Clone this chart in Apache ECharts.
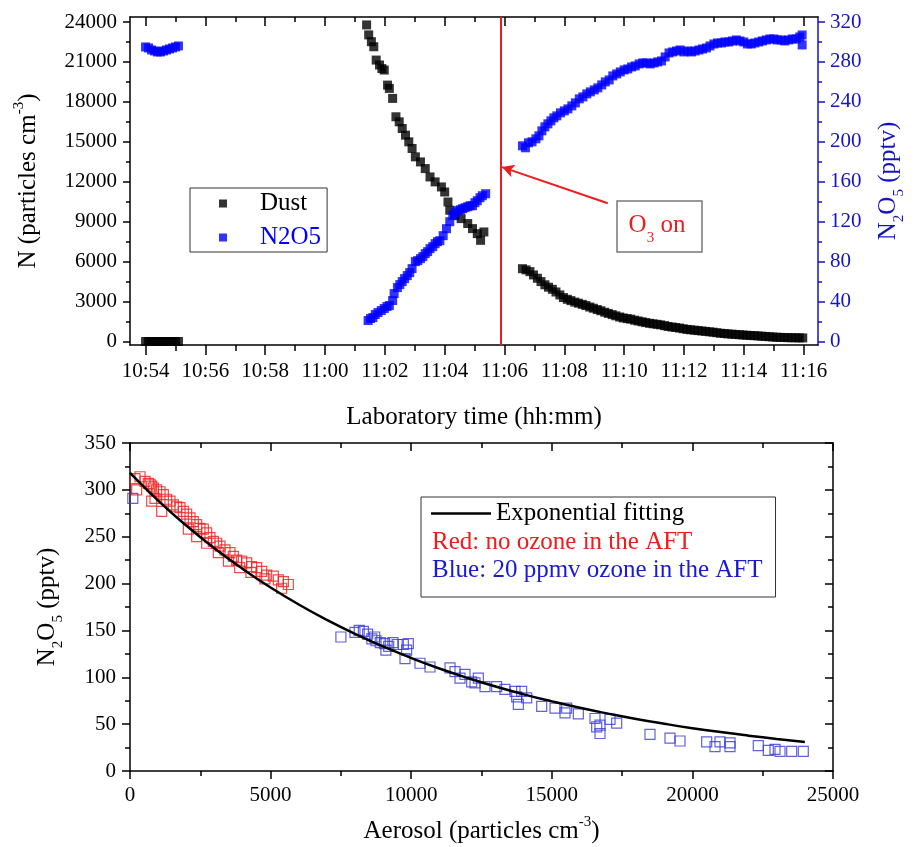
<!DOCTYPE html>
<html><head><meta charset="utf-8">
<script src="https://cdn.jsdelivr.net/npm/echarts@6/dist/echarts.min.js"></script>
<style>html,body{margin:0;padding:0;background:#fff}#c{width:915px;height:847px}</style>
</head><body><div id="c"></div>
<script>
// ---------- DATA (time in minutes after 10:00) ----------
const timeMajorTicks = [54,56,58,60,62,64,66,68,70,72,74,76];
const timeMinorTicks = [55,57,59,61,63,65,67,69,71,73,75];
const dustMajorTicks = [0,3000,6000,9000,12000,15000,18000,21000,24000];
const dustMinorTicks = [1500,4500,7500,10500,13500,16500,19500,22500];
const pptvMajorTicks = [0,40,80,120,160,200,240,280,320];
const pptvMinorTicks = [20,60,100,140,180,220,260,300];

const dustTime = [54.00,54.10,54.20,54.30,54.40,54.50,54.60,54.70,54.80,54.90,55.00,55.10,
  61.39,61.46,61.55,61.63,61.71,61.82,61.90,61.98,62.09,62.15,62.26,62.37,62.48,62.58,62.69,62.80,62.91,63.02,63.19,63.35,63.51,63.68,63.89,64.00,64.11,64.17,64.33,64.55,64.77,64.93,65.09,65.20,65.31,
  66.60,66.72,66.85,66.97,67.10,67.22,67.35,67.47,67.60,67.72,67.85,67.97,68.10,68.22,68.35,68.47,68.60,68.72,68.85,68.97,69.10,69.22,69.35,69.47,69.60,69.72,69.85,69.97,70.10,70.22,70.35,70.47,70.60,70.72,70.85,70.97,71.10,71.22,71.35,71.47,71.60,71.72,71.85,71.97,72.10,72.22,72.35,72.47,72.60,72.72,72.85,72.97,73.10,73.22,73.35,73.47,73.60,73.72,73.85,73.97,74.10,74.22,74.35,74.47,74.60,74.72,74.85,74.97,75.10,75.22,75.35,75.47,75.60,75.72,75.85,75.97];
const dustValue = [0,0,0,0,0,0,0,0,0,0,0,0,
  23780,23030,22520,22140,21140,20770,20500,20390,19260,19010,18260,16880,16500,16000,15500,15000,14500,13870,13490,12990,12360,11990,11610,11230,10480,9860,9480,9230,8860,8480,8100,7600,8230,
  5470,5380,5250,5000,4750,4500,4260,4080,3920,3720,3500,3300,3170,3070,2960,2880,2790,2700,2590,2500,2400,2310,2200,2110,2020,1930,1840,1770,1720,1680,1600,1540,1480,1420,1370,1330,1290,1250,1190,1130,1090,1050,1010,960,910,880,850,820,790,760,730,700,660,620,600,570,550,530,510,490,470,450,440,420,400,380,360,340,320,310,300,290,285,280,275,270];

const n2o5Time = [54.00,54.10,54.20,54.30,54.40,54.50,54.60,54.70,54.80,54.90,55.00,55.10,
  61.44,61.52,61.60,61.68,61.77,61.88,61.98,62.07,62.15,62.26,62.31,62.42,62.50,62.58,62.66,62.75,62.83,62.91,63.02,63.10,63.19,63.27,63.35,63.43,63.51,63.60,63.68,63.76,63.84,63.95,64.06,64.17,64.27,64.35,64.44,64.52,64.60,64.68,64.77,64.85,64.93,65.01,65.09,65.18,65.26,65.37,
  66.60,66.70,66.80,66.92,67.05,67.15,67.25,67.35,67.45,67.55,67.65,67.75,67.87,68.00,68.12,68.25,68.37,68.50,68.62,68.75,68.87,69.00,69.12,69.25,69.37,69.50,69.62,69.75,69.87,70.00,70.12,70.25,70.37,70.50,70.62,70.75,70.87,71.00,71.12,71.25,71.37,71.50,71.62,71.75,71.87,72.00,72.12,72.25,72.37,72.50,72.62,72.75,72.87,73.00,73.12,73.25,73.37,73.50,73.62,73.75,73.87,74.00,74.12,74.25,74.37,74.50,74.62,74.75,74.87,75.00,75.12,75.25,75.37,75.50,75.62,75.75,75.87,75.95,75.95];
const n2o5Value = [295,294,292,291,290,290,291,292,293,294,295,296,
  21,23,24,27,29,31,33,35,36,41,48,54,57,60,63,66,69,73,80,81,83,85,88,90,93,95,98,100,101,106,113,120,126,129,131,132,133,134,135,136,136,139,141,144,146,148,
  196,194,199,200,203,206,211,215,218,221,224,226,229,231,233,236,239,243,245,248,250,252,254,257,260,262,266,268,270,272,273,275,276,278,279,279,278,279,280,281,285,289,290,291,292,290,291,290,291,292,293,294,296,298,299,299,300,300,301,302,301,300,298,298,299,300,301,302,303,303,302,302,301,302,303,303,305,307,297];

const O3_ON_TIME = 65.88;
const arrowFrom = [69.45, 10380];
const arrowTo = [65.92, 13100];

const aerosolTicks = [0,5000,10000,15000,20000,25000];
const redAerosol = [178,356,533,652,711,770,830,948,1067,1186,1304,1422,1541,1660,1778,1897,2015,2134,2252,2371,2489,2608,2726,2845,2964,3082,3200,3378,3556,3675,3793,3971,4149,4327,4505,4683,4860,5097,5275,5453,5630,
  237,889,5393,771,1127,2075,2371,2726,3141,3500,3900,4300,4800];
const redN2O5 = [312,314,309,307,306,304,302,300,298,295,290,288,284,282,281,277,274,270,266,263,259,258,254,249,245,243,240,236,233,229,225,224,222,218,217,213,209,208,204,202,199,
  300,291,195,288,277,258,250,243,233,224,217,212,205];
const blueAerosol = [100,7500,8000,8150,8300,8450,8600,8700,8750,8900,9050,9100,9200,9350,9500,
  9720,9838,9898,9780,10313,10669,11380,11558,11736,11913,12150,12387,12269,12624,13039,13335,13691,13928,13751,13810,14107,14641,15114,15529,15470,15944,16536,16714,16714,16596,17070,17307,18492,19203,19559,20508,20804,20982,21337,21337,22343,22699,22937,23115,23531,23944];
const blueN2O5 = [291,143,148,150,149,146,141,143,139,137,136,129,133,137,135,
  135,129,136,120,115,111,110,106,99,103,95,99,94,90,90,87,85,85,79,71,78,69,67,67,62,61,56,49,40,47,55,51,39,35,32,31,26,31,30,26,27,22,23,21,21,21];
const fitAerosol = [0,1000,2000,3000,4000,5000,6000,7000,8000,9000,10000,11000,12000,13000,14000,15000,16000,17000,18000,19000,20000,21000,22000,23000,24000];
const fitN2O5 = [318,288.6,261.9,237.7,215.8,195.8,177.7,161.3,146.4,132.9,120.6,109.4,99.3,90.1,81.8,74.3,67.4,61.2,55.5,50.4,45.7,41.5,37.7,34.2,31.0];

// ---------- helpers ----------
const zip = (a, b) => a.map((v, i) => [v, b[i]]);
const FONT = 'Liberation Serif';
const BLUE = '#0000ff';
const BLUE_AX = '#1414c0';
const RED = '#ee1c1c';
const fmtTime = v => { const h = 10 + Math.floor(v / 60); const m = Math.round(v % 60); return h + ':' + String(m).padStart(2, '0'); };
const lbl = (c) => ({ fontFamily: FONT, fontSize: 21, color: c || '#000' });
const subRich = (c) => ({
  sub: { fontFamily: FONT, fontSize: 15, color: c, verticalAlign: 'bottom', padding: [0, 0, -6, 0] },
  sup: { fontFamily: FONT, fontSize: 15, color: c, verticalAlign: 'top', padding: [-4, 0, 0, 0] }
});
const nameStyle = (c) => ({ fontFamily: FONT, fontSize: 25, color: c, rich: subRich(c) });
const T_MIN = 53.48, T_MAX = 76.48;
const blk = { color: '#000', width: 1.5 };

const chart = echarts.init(document.getElementById('c'), null, { renderer: 'canvas' });
chart.setOption({
  backgroundColor: '#fff',
  animation: false,
  grid: [
    { left: 130, top: 17, width: 703, height: 328 },
    { left: 130, top: 443, width: 703, height: 328 }
  ],
  xAxis: [
    { gridIndex: 0, type: 'value', position: 'bottom', min: T_MIN, max: T_MAX,
      axisLine: { onZero: false, lineStyle: blk },
      axisTick: { customValues: timeMajorTicks, length: 10, lineStyle: blk },
      axisLabel: { customValues: timeMajorTicks, formatter: fmtTime, margin: 16, ...lbl() },
      splitLine: { show: false },
      name: 'Laboratory time (hh:mm)', nameLocation: 'middle', nameGap: 60, nameTextStyle: nameStyle('#000') },
    { gridIndex: 0, type: 'value', position: 'bottom', min: T_MIN, max: T_MAX,
      axisLine: { show: false, onZero: false },
      axisTick: { customValues: timeMinorTicks, length: 6, lineStyle: blk },
      axisLabel: { show: false }, splitLine: { show: false } },
    { gridIndex: 0, type: 'value', position: 'top', min: T_MIN, max: T_MAX,
      axisLine: { onZero: false, lineStyle: blk },
      axisTick: { inside: true, customValues: timeMajorTicks, length: 9, lineStyle: blk },
      axisLabel: { show: false }, splitLine: { show: false } },
    { gridIndex: 0, type: 'value', position: 'top', min: T_MIN, max: T_MAX,
      axisLine: { show: false, onZero: false },
      axisTick: { inside: true, customValues: timeMinorTicks, length: 5, lineStyle: blk },
      axisLabel: { show: false }, splitLine: { show: false } },
    { gridIndex: 1, type: 'value', position: 'bottom', min: 0, max: 25000, interval: 5000,
      axisLine: { onZero: false, lineStyle: blk },
      axisTick: { length: 8, lineStyle: blk },
      minorTick: { show: true, splitNumber: 2, length: 5, lineStyle: blk },
      axisLabel: { formatter: v => String(v), margin: 14, ...lbl() },
      splitLine: { show: false },
      name: 'Aerosol (particles cm{sup|-3})', nameLocation: 'middle', nameGap: 48, nameTextStyle: nameStyle('#000') },
    { gridIndex: 1, type: 'value', position: 'top', min: 0, max: 25000, interval: 5000,
      axisLine: { onZero: false, lineStyle: blk },
      axisTick: { inside: true, length: 8, lineStyle: blk },
      minorTick: { show: true, splitNumber: 2, length: 5, lineStyle: blk },
      axisLabel: { show: false }, splitLine: { show: false } }
  ],
  yAxis: [
    { gridIndex: 0, type: 'value', position: 'left', min: -262.5, max: 24375,
      axisLine: { show: true, onZero: false, lineStyle: blk },
      axisTick: { show: true, customValues: dustMajorTicks, length: 7, lineStyle: blk },
      axisLabel: { customValues: dustMajorTicks, formatter: v => String(v), margin: 13, ...lbl() },
      splitLine: { show: false },
      name: 'N (particles cm{sup|-3})', nameLocation: 'middle', nameRotate: 90, nameGap: 89, nameTextStyle: nameStyle('#000') },
    { gridIndex: 0, type: 'value', position: 'left', min: -262.5, max: 24375,
      axisLine: { show: false, onZero: false },
      axisTick: { show: true, customValues: dustMinorTicks, length: 4, lineStyle: blk },
      axisLabel: { show: false }, splitLine: { show: false } },
    { gridIndex: 0, type: 'value', position: 'right', min: -3.5, max: 325,
      axisLine: { show: true, onZero: false, lineStyle: { color: BLUE_AX, width: 1.5 } },
      axisTick: { show: true, customValues: pptvMajorTicks, length: 7, lineStyle: { color: BLUE_AX, width: 1.5 } },
      axisLabel: { customValues: pptvMajorTicks, margin: 12, ...lbl(BLUE_AX) },
      splitLine: { show: false },
      name: 'N{sub|2}O{sub|5} (pptv)', nameLocation: 'middle', nameRotate: 90, nameGap: 58, nameTextStyle: nameStyle(BLUE_AX) },
    { gridIndex: 0, type: 'value', position: 'right', min: -3.5, max: 325,
      axisLine: { show: false, onZero: false },
      axisTick: { show: true, customValues: pptvMinorTicks, length: 4, lineStyle: { color: BLUE_AX, width: 1.5 } },
      axisLabel: { show: false }, splitLine: { show: false } },
    { gridIndex: 1, type: 'value', position: 'left', min: 0, max: 350, interval: 50,
      axisLine: { show: true, onZero: false, lineStyle: blk },
      axisTick: { show: true, length: 8, lineStyle: blk },
      minorTick: { show: true, splitNumber: 2, length: 5, lineStyle: blk },
      axisLabel: { margin: 14, ...lbl() },
      splitLine: { show: false },
      name: 'N{sub|2}O{sub|5} (pptv)', nameLocation: 'middle', nameRotate: 90, nameGap: 70, nameTextStyle: nameStyle('#000') },
    { gridIndex: 1, type: 'value', position: 'right', min: 0, max: 350, interval: 50,
      axisLine: { show: true, onZero: false, lineStyle: blk },
      axisTick: { show: true, inside: true, length: 8, lineStyle: blk },
      minorTick: { show: true, splitNumber: 2, length: 5, lineStyle: blk },
      axisLabel: { show: false }, splitLine: { show: false } }
  ],
  legend: [
    { data: [{ name: 'Dust', textStyle: { color: '#000' } }, { name: 'N2O5', textStyle: { color: BLUE } }],
      left: 190, top: 188, orient: 'vertical', icon: 'rect', itemWidth: 8, itemHeight: 8, itemGap: 9,
      selectedMode: false, borderColor: '#333', borderWidth: 1, padding: [3, 6, 2, 29],
      textStyle: { fontFamily: FONT, fontSize: 25, lineHeight: 25, padding: [0, 0, 0, 28] } },
    { data: [{ name: 'Exponential fitting', icon: 'rect' }], left: 431, top: 501, orient: 'vertical', itemWidth: 60, itemHeight: 2.5,
      itemStyle: { color: '#000' }, selectedMode: false, padding: 0,
      textStyle: { fontFamily: FONT, fontSize: 25, lineHeight: 25, color: '#000' } },
    { data: [{ name: 'Red: no ozone in the AFT', textStyle: { color: RED } },
             { name: 'Blue: 20 ppmv ozone in the AFT', textStyle: { color: '#1a1ad0' } }],
      left: 421, top: 497, orient: 'vertical', itemWidth: 0, itemHeight: 0, itemGap: 3,
      itemStyle: { opacity: 0 }, selectedMode: false,
      borderColor: '#333', borderWidth: 1, padding: [33, 13, 14, 5],
      textStyle: { fontFamily: FONT, fontSize: 25, lineHeight: 25 } }
  ],
  graphic: [
    { type: 'rect', shape: { x: 617, y: 201, width: 85, height: 51 }, style: { fill: '#fff', stroke: '#777', lineWidth: 1.5 }, z: 10 },
    { type: 'text', x: 657, y: 225, z: 11,
      style: { text: 'O{sub|3} on', align: 'center', verticalAlign: 'middle', fill: RED, fontFamily: FONT, fontSize: 25,
        rich: { sub: { fontFamily: FONT, fontSize: 15, fill: RED, verticalAlign: 'bottom', padding: [0, 0, -8, 0] } } } }
  ],
  series: [
    { name: 'Dust', type: 'scatter', xAxisIndex: 0, yAxisIndex: 0, symbol: 'rect', symbolSize: 9,
      itemStyle: { color: '#000' }, data: zip(dustTime, dustValue), z: 3,
      markLine: { silent: true, symbol: ['none', 'none'], animation: false,
        label: { show: false },
        lineStyle: { color: RED, width: 2, type: 'solid' },
        data: [
          { xAxis: O3_ON_TIME },
          [ { coord: arrowFrom, symbol: 'none' }, { coord: arrowTo, symbol: 'arrow', symbolSize: [10, 12] } ]
        ] } },
    { name: 'N2O5', type: 'scatter', xAxisIndex: 0, yAxisIndex: 2, symbol: 'rect', symbolSize: 9,
      itemStyle: { color: BLUE }, data: zip(n2o5Time, n2o5Value), z: 3 },
    { name: 'Red: no ozone in the AFT', type: 'scatter', xAxisIndex: 4, yAxisIndex: 4, symbol: 'rect', symbolSize: 10,
      itemStyle: { color: 'rgba(255,255,255,0)', borderColor: RED, borderWidth: 1.2 }, data: zip(redAerosol, redN2O5), z: 2 },
    { name: 'Blue: 20 ppmv ozone in the AFT', type: 'scatter', xAxisIndex: 4, yAxisIndex: 4, symbol: 'rect', symbolSize: 10,
      itemStyle: { color: 'rgba(255,255,255,0)', borderColor: '#3a3ad8', borderWidth: 1.2 }, data: zip(blueAerosol, blueN2O5), z: 2 },
    { name: 'Exponential fitting', type: 'line', xAxisIndex: 4, yAxisIndex: 4, symbol: 'none', smooth: true,
      lineStyle: { color: '#000', width: 2.5 }, itemStyle: { color: '#000' }, data: zip(fitAerosol, fitN2O5), z: 4 }
  ]
});
</script>
</body></html>
